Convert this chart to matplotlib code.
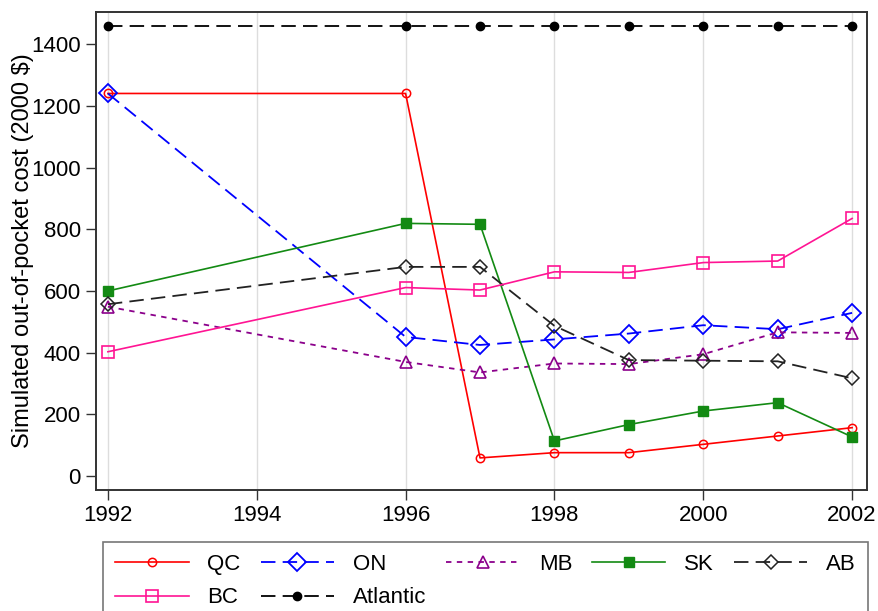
import matplotlib
matplotlib.use("Agg")
import matplotlib.pyplot as plt

years = [1992, 1996, 1997, 1998, 1999, 2000, 2001, 2002]
qc = [1240, 1240, 59, 76, 76, 103, 130, 157]
on = [1240, 451, 425, 443, 462, 489, 476, 529]
mb = [549, 370, 336, 365, 363, 395, 466, 464]
sk = [600, 819, 816, 114, 167, 211, 238, 127]
ab = [557, 678, 678, 487, 376, 374, 372, 317]
bc = [403, 611, 603, 662, 660, 692, 697, 835]
atlantic = [1458] * 8
xticks = [1992, 1994, 1996, 1998, 2000, 2002]
yticks = [0, 200, 400, 600, 800, 1000, 1200, 1400]

plt.rcParams['font.family'] = ['Liberation Sans', 'DejaVu Sans']
fig = plt.figure(figsize=(8.79, 6.11), dpi=100)
ax = fig.add_axes([96/879, 1-490/611, (867-96)/879, (490-12)/611])

for x in xticks:
    ax.axvline(x, color='#dddddd', lw=1, zorder=0)

h = {}
h['QC'], = ax.plot(years, qc, color='#ff0000', lw=1.2, marker='o', ms=6, mfc='none', mew=1.1, label='QC')
h['ON'], = ax.plot(years, on, color='#0000ff', lw=1.3, ls=(0, (8, 4)), marker='D', ms=9, mfc='none', mew=1.3, label='ON')
h['MB'], = ax.plot(years, mb, color='#8b008b', lw=1.3, ls=(0, (3, 3)), marker='^', ms=8, mfc='none', mew=1.2, label='MB')
h['SK'], = ax.plot(years, sk, color='#138a13', lw=1.2, marker='s', ms=7, mfc='#138a13', mec='#138a13', label='SK')
h['AB'], = ax.plot(years, ab, color='#222222', lw=1.3, ls=(0, (8, 4)), marker='D', ms=7, mfc='none', mew=1.1, label='AB')
h['BC'], = ax.plot(years, bc, color='#ff1493', lw=1.2, marker='s', ms=9, mfc='none', mew=1.2, label='BC')
h['Atlantic'], = ax.plot(years, atlantic, color='#000000', lw=1.3, ls=(0, (8, 4)), marker='o', ms=6, mfc='#000000', label='Atlantic')

ax.set_xlim(1991.84, 2002.2)
ax.set_ylim(-45, 1504)
ax.set_xticks(xticks)
ax.set_yticks(yticks)
ax.tick_params(axis='both', labelsize=16, direction='out', length=7, width=1, pad=4, color='#333333')
ax.set_ylabel('Simulated out-of-pocket cost (2000 $)', fontsize=17)
ax.yaxis.set_label_coords((34 - 96) / 771, 0.5)
for s in ax.spines.values():
    s.set_linewidth(1.4)
    s.set_color('#333333')

order = ['QC', 'BC', 'ON', 'Atlantic', 'MB', 'SK', 'AB']
leg = fig.legend([h[k] for k in order], order, loc='upper left',
                 bbox_to_anchor=(103/879, 1-542/611),
                 ncol=5, fontsize=16, handlelength=3.3,
                 frameon=True, fancybox=False, edgecolor='#555555',
                 borderaxespad=0, columnspacing=0.9, handletextpad=0.85,
                 labelspacing=0.55, borderpad=0.55)
leg.get_frame().set_linewidth(1.2)

fig.savefig('out.png', dpi=100)
